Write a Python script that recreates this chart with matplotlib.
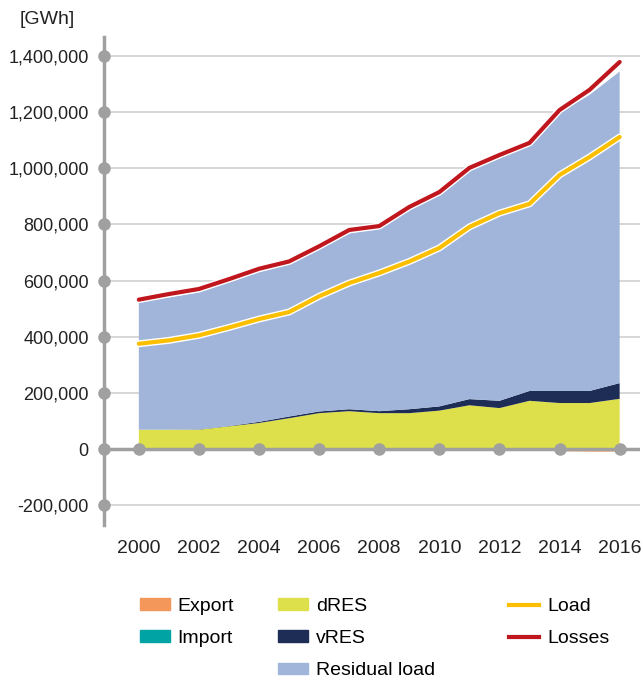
import matplotlib.pyplot as plt
import matplotlib.patheffects as pe
from matplotlib.lines import Line2D
from matplotlib.patches import Patch
from matplotlib.ticker import FuncFormatter
import numpy as np

plt.rcParams['font.family'] = ['Liberation Sans', 'DejaVu Sans']

# 数据 (GWh)
years = list(range(2000, 2017))
export = [0, 0, 0, 0, 0, 0, 0, 0, 0, 0, 0, 0, 0, 0, -6000, -7000, -7000]
imports = [0] * 17
dres = [69000, 69000, 69000, 81000, 93000, 110000, 128000, 135000, 128000,
        128000, 137000, 156000, 146000, 172000, 164000, 164000, 179000]
vres = [0, 0, 1000, 1000, 4000, 6000, 6000, 7000, 7000,
        14000, 15000, 22000, 26000, 35000, 43000, 43000, 56000]
residual = [454000, 471000, 488000, 513000, 533000, 541000, 578000, 626000, 650000,
            708000, 753000, 812000, 863000, 873000, 990000, 1054000, 1109000]
load = [375000, 387000, 405000, 433000, 463000, 488000, 544000, 591000, 627000,
        668000, 716000, 791000, 840000, 873000, 976000, 1040000, 1111000]
losses = [532000, 552000, 570000, 605000, 642000, 668000, 722000, 780000, 794000,
          862000, 915000, 1001000, 1047000, 1090000, 1207000, 1279000, 1378000]

c_export = '#f4975a'
c_import = '#00a3a3'
c_dres = '#dde04a'
c_vres = '#1e2d55'
c_resid = '#a0b5d9'
c_load = '#fbbf00'
c_loss = '#c0161d'
grey = '#a0a0a0'
fs = 14

fig = plt.figure(figsize=(6.43, 6.80), dpi=100)
ax = fig.add_axes([0.1617, 0.228, 0.8333, 0.7176])

x = np.array(years)
ax.stackplot(x, dres, vres, residual, colors=[c_dres, c_vres, c_resid], linewidth=0)
ax.fill_between(x, 0, export, color=c_export, linewidth=0)
ax.fill_between(x, 0, imports, color=c_import, linewidth=0)

stroke = [pe.Stroke(linewidth=5, foreground='white'), pe.Normal()]
ax.plot(x, load, color=c_load, lw=3, path_effects=stroke, solid_capstyle='round', zorder=5)
ax.plot(x, losses, color=c_loss, lw=3, path_effects=stroke, solid_capstyle='round', zorder=5)

# 坐标轴
ax.set_xlim(1998.84, 2016.67)
ax.set_ylim(-270000, 1467000)
yt = np.arange(-200000, 1400001, 200000)
ax.set_yticks(yt)
ax.set_xticks(range(2000, 2017, 2))
ax.yaxis.set_major_formatter(FuncFormatter(lambda v, p: '{:,.0f}'.format(v)))
ax.tick_params(axis='both', length=0, labelsize=fs, colors='#222222')
ax.tick_params(axis='y', pad=11, labelsize=13)
ax.tick_params(axis='x', pad=11)
for s in ['top', 'right', 'bottom']:
    ax.spines[s].set_visible(False)
ax.spines['left'].set_color(grey)
ax.spines['left'].set_linewidth(2.5)
for v in yt:
    if v != 0:
        ax.axhline(v, color='#d4d4d4', lw=1.3, zorder=0.5)
ax.axhline(0, color=grey, lw=2.5, zorder=6)

ax.plot([1998.84] * len(yt), yt, 'o', color=grey, ms=8, clip_on=False, zorder=7)
ax.plot(range(2000, 2017, 2), [0] * 9, 'o', color=grey, ms=8, clip_on=False, zorder=7)

fig.text(0.031, 0.972, '[GWh]', fontsize=fs, color='#222222', va='center')

# 图例
kw = dict(frameon=False, fontsize=fs, handlelength=1.55, handleheight=0.55,
          labelspacing=0.78, handletextpad=0.4, borderaxespad=0)
l1 = fig.legend([Patch(color=c_export), Patch(color=c_import)], ['Export', 'Import'],
                loc='upper left', bbox_to_anchor=(0.205, 0.132), **kw)
l2 = fig.legend([Patch(color=c_dres), Patch(color=c_vres), Patch(color=c_resid)],
                ['dRES', 'vRES', 'Residual load'],
                loc='upper left', bbox_to_anchor=(0.42, 0.132), **kw)
l3 = fig.legend([Line2D([], [], color=c_load, lw=3), Line2D([], [], color=c_loss, lw=3)],
                ['Load', 'Losses'],
                loc='upper left', bbox_to_anchor=(0.78, 0.132), **kw)

fig.savefig('out.png', dpi=100)
